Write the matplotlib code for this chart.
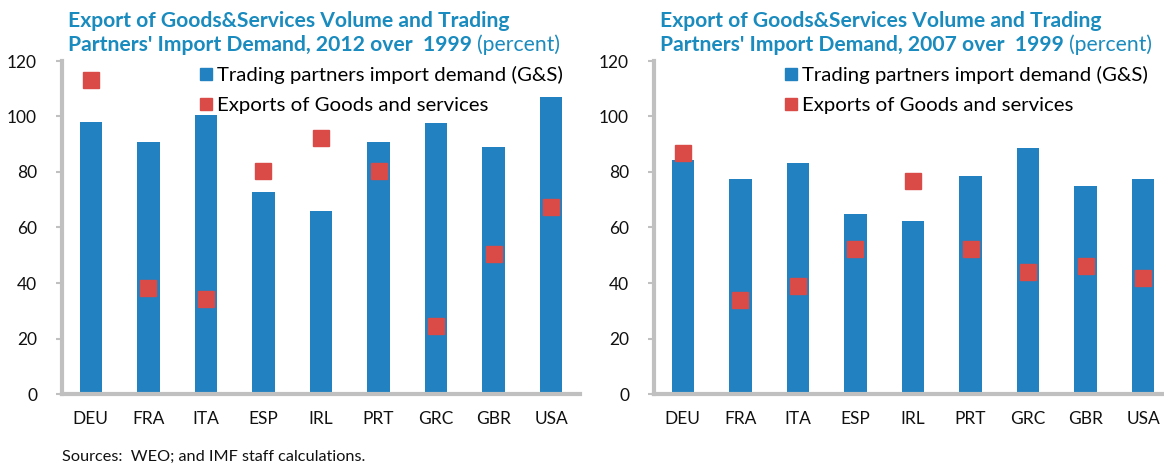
import matplotlib.pyplot as plt
from matplotlib.lines import Line2D

plt.rcParams['font.family'] = ['Lato', 'DejaVu Sans']

COUNTRIES = ['DEU', 'FRA', 'ITA', 'ESP', 'IRL', 'PRT', 'GRC', 'GBR', 'USA']

# 2012 over 1999
DEMAND_2012 = [98.1, 90.9, 100.6, 72.9, 66.1, 90.9, 97.5, 89.1, 106.9]
EXPORTS_2012 = [113.0, 38.1, 34.3, 80.3, 92.3, 80.3, 24.4, 50.5, 67.3]

# 2007 over 1999
DEMAND_2007 = [84.4, 77.3, 83.3, 65.0, 62.2, 78.5, 88.8, 74.8, 77.3]
EXPORTS_2007 = [87.0, 33.7, 38.8, 52.2, 76.9, 52.2, 44.1, 46.1, 41.7]

YTICKS = [0, 20, 40, 60, 80, 100, 120]

BLUE = '#2181C1'
RED = '#DA4A47'
TITLE_COLOR = '#1A8BBE'
SPINE = '#C0C0C0'

LABEL_DEMAND = 'Trading partners import demand (G&S)'
LABEL_EXPORTS = 'Exports of Goods and services'


def draw_panel(ax, demand, exports, legend_x):
    x = range(len(COUNTRIES))
    ax.bar(x, demand, width=0.39, color=BLUE, zorder=2)
    ax.plot(x, exports, 's', color=RED, markersize=12, zorder=3)
    ax.set_xlim(-0.5, len(COUNTRIES) - 0.5)
    ax.set_ylim(0, 120)
    ax.set_yticks(YTICKS)
    ax.set_xticks(list(x))
    ax.set_xticklabels(COUNTRIES)
    ax.tick_params(axis='x', length=0, pad=12, labelsize=12.5, colors='#111111')
    ax.tick_params(axis='y', length=4, width=1.5, color=SPINE, pad=14,
                   labelsize=12.5, labelcolor='#111111')
    for s in ['top', 'right']:
        ax.spines[s].set_visible(False)
    for s in ['left', 'bottom']:
        ax.spines[s].set_color(SPINE)
        ax.spines[s].set_linewidth(3)
    handles = [
        Line2D([], [], marker='s', linestyle='', color=BLUE, markersize=9),
        Line2D([], [], marker='s', linestyle='', color=RED, markersize=9),
    ]
    ax.legend(handles, [LABEL_DEMAND, LABEL_EXPORTS], loc='upper left',
              bbox_to_anchor=(legend_x, 1.01), frameon=False, fontsize=14.7,
              handlelength=0.6, handletextpad=0.25, labelspacing=0.65,
              borderaxespad=0)


fig = plt.figure(figsize=(11.64, 4.65), dpi=100)
ax1 = fig.add_axes([62 / 1164, 1 - 394 / 465, 518 / 1164, 333 / 465])
ax2 = fig.add_axes([654 / 1164, 1 - 394 / 465, 518 / 1164, 333 / 465])

draw_panel(ax1, DEMAND_2012, EXPORTS_2012, 0.25)
draw_panel(ax2, DEMAND_2007, EXPORTS_2007, 0.236)

for x0, year in [(68, 2012), (660, 2007)]:
    fig.text(x0 / 1164, 1 - 21 / 465,
             'Export of Goods&Services Volume and Trading',
             fontsize=15.2, fontweight='bold', color=TITLE_COLOR, va='center')
    t = fig.text(x0 / 1164, 1 - 45 / 465,
                 "Partners' Import Demand, %d over  1999 " % year,
                 fontsize=15.2, fontweight='bold', color=TITLE_COLOR, va='center')
    fig.canvas.draw()
    bb = t.get_window_extent()
    fig.text(bb.x1 / 1164, 1 - 45 / 465, '(percent)', fontsize=15.2,
             color=TITLE_COLOR, va='center')

fig.text(62 / 1164, 1 - 457 / 465, 'Sources:  WEO; and IMF staff calculations.',
         fontsize=11.7, color='#111111', va='center')

fig.savefig('out.png', dpi=100)
